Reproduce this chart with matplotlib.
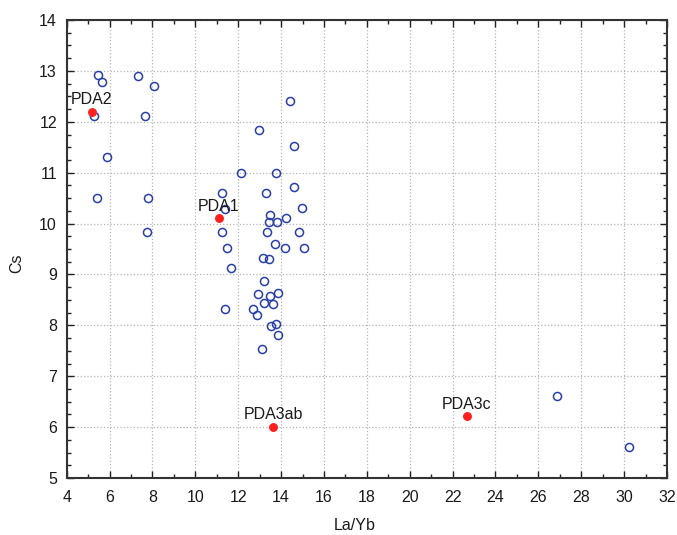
import matplotlib
matplotlib.use("Agg")
import matplotlib.pyplot as plt
from matplotlib.ticker import MultipleLocator

plt.rcParams['font.family'] = ['Liberation Sans', 'DejaVu Sans']

# Sample data (La/Yb vs Cs)
la_yb = [5.47, 5.63, 7.34, 8.08, 5.27, 7.67, 5.90, 14.41, 12.97, 14.60,
         12.13, 13.74, 5.43, 7.78, 11.24, 13.28, 14.60, 14.96, 11.38, 13.48,
         13.45, 13.82, 14.22, 7.73, 11.24, 13.32, 14.85, 11.50, 13.71, 14.18,
         15.06, 13.14, 13.45, 11.66, 13.21, 12.90, 13.48, 13.87, 13.21, 13.63,
         11.40, 12.70, 12.86, 13.52, 13.76, 13.87, 13.12, 26.89, 30.23]
cs = [12.91, 12.79, 12.90, 12.70, 12.11, 12.11, 11.30, 12.40, 11.83, 11.52,
      11.00, 11.00, 10.50, 10.50, 10.61, 10.61, 10.71, 10.31, 10.28, 10.17,
      10.03, 10.03, 10.10, 9.83, 9.83, 9.83, 9.83, 9.51, 9.60, 9.51,
      9.51, 9.32, 9.30, 9.12, 8.87, 8.61, 8.58, 8.63, 8.43, 8.41,
      8.32, 8.33, 8.21, 7.99, 8.02, 7.81, 7.53, 6.61, 5.61]

# Reference points
ref_names = ["PDA2", "PDA1", "PDA3ab", "PDA3c"]
ref_la_yb = [5.16, 11.09, 13.63, 22.65]
ref_cs = [12.20, 10.10, 6.00, 6.21]

x_ticks = list(range(4, 33, 2))
y_ticks = list(range(5, 15, 1))

fig = plt.figure(figsize=(6.77, 5.35), dpi=100)
ax = fig.add_axes([66.7 / 677, 1 - 478 / 535, 600.3 / 677, 458 / 535])

ax.plot(la_yb, cs, linestyle='none', marker='o', markersize=5.8,
        markerfacecolor='none', markeredgecolor='#2a3fa6', markeredgewidth=1.1,
        zorder=3)
ax.plot(ref_la_yb, ref_cs, linestyle='none', marker='o', markersize=5.4,
        markerfacecolor='#ff1f1f', markeredgecolor='#ff1f1f', zorder=4)
for name, xv, yv in zip(ref_names, ref_la_yb, ref_cs):
    ax.annotate(name, (xv, yv), xytext=(0, 5.5), textcoords='offset points',
                ha='center', va='baseline', fontsize=11.5, color='#1a1a1a', zorder=5)

ax.set_xlim(4, 32)
ax.set_ylim(5, 14)
ax.set_xticks(x_ticks)
ax.set_yticks(y_ticks)
ax.xaxis.set_minor_locator(MultipleLocator(1))
ax.yaxis.set_minor_locator(MultipleLocator(0.25))
ax.tick_params(which='both', direction='in', top=True, right=True,
               labelsize=11.5, labelcolor='#1a1a1a', color='#222222')
ax.tick_params(which='major', length=5, width=1)
ax.tick_params(which='minor', length=3, width=1)
ax.tick_params(axis='y', which='major', pad=7)
ax.tick_params(axis='x', which='major', pad=9)
ax.grid(True, which='major', linestyle=':', color='#b5b5b5', linewidth=0.9)
ax.set_axisbelow(True)
for sp in ax.spines.values():
    sp.set_linewidth(1.5)
    sp.set_color('#333333')

ax.set_xlabel('La/Yb', fontsize=11.5, color='#1a1a1a')
ax.set_ylabel('Cs', fontsize=11.5, color='#1a1a1a')
ax.xaxis.set_label_coords((355 - 66.7) / 600.3, -(518 - 478) / 458)
ax.yaxis.set_label_coords(-(66.7 - 24) / 600.3, (478 - 263) / 458)

fig.savefig('out.png', dpi=100)
